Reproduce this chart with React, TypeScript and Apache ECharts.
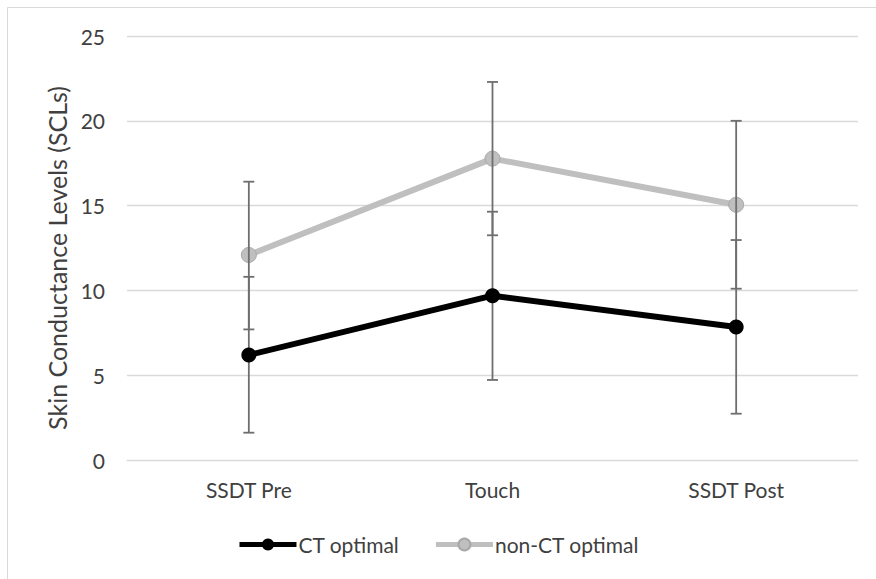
import React, { useEffect, useRef } from "react";
import * as echarts from "echarts";

const categories = ["SSDT Pre", "Touch", "SSDT Post"];
const ctMean = [6.19, 9.69, 7.84];
const ctLow = [1.61, 4.72, 2.73];
const ctHigh = [10.8, 14.64, 12.97];
const nonMean = [12.09, 17.77, 15.05];
const nonLow = [7.7, 13.25, 10.1];
const nonHigh = [16.41, 22.29, 20.0];
const yTicks = { min: 0, max: 25, interval: 5 };
const yTitle = "Skin Conductance Levels (SCLs)";

const FONT = "Lato, 'Open Sans', sans-serif";

export default function App() {
  const ref = useRef<HTMLDivElement>(null);
  useEffect(() => {
    if (!ref.current) return;
    const chart = echarts.init(ref.current, undefined, { renderer: "svg" });
    const errData: number[][] = [];
    categories.forEach((_, i) => {
      errData.push([i, ctLow[i], ctHigh[i]]);
      errData.push([i, nonLow[i], nonHigh[i]]);
    });
    chart.setOption({
      animation: false,
      backgroundColor: "#ffffff",
      textStyle: { fontFamily: FONT },
      graphic: [
        {
          type: "rect",
          shape: { x: 7.5, y: 7.5, width: 900, height: 600 },
          style: { fill: "none", stroke: "#d9d9d9", lineWidth: 1 },
          silent: true,
        },
        {
          type: "text",
          x: 57,
          y: 258,
          rotation: Math.PI / 2,
          style: {
            text: yTitle,
            fill: "#404040",
            fontSize: 25,
            fontFamily: FONT,
            align: "center",
            verticalAlign: "middle",
          },
          silent: true,
        },
      ],
      grid: { left: 127, right: 18, top: 36, bottom: 119, containLabel: false },
      xAxis: {
        type: "category",
        data: categories,
        boundaryGap: true,
        axisLine: { show: true, lineStyle: { color: "#d9d9d9", width: 1 } },
        axisTick: { show: false },
        axisLabel: { color: "#404040", fontSize: 21, margin: 19, fontFamily: FONT },
      },
      yAxis: {
        type: "value",
        min: yTicks.min,
        max: yTicks.max,
        interval: yTicks.interval,
        axisLine: { show: false },
        axisTick: { show: false },
        axisLabel: { color: "#404040", fontSize: 21, margin: 22, fontFamily: FONT },
        splitLine: { lineStyle: { color: "#d9d9d9", width: 1.3 } },
      },
      legend: {
        top: 529,
        left: "center",
        itemWidth: 57,
        itemHeight: 15,
        itemGap: 34,
        lineStyle: { width: 5 },
        textStyle: { color: "#404040", fontSize: 21, fontFamily: FONT, padding: [0, 0, 0, -3] },
        data: ["CT optimal", "non-CT optimal"],
      },
      series: [
        {
          name: "non-CT optimal",
          type: "line",
          data: nonMean,
          z: 2,
          symbol: "circle",
          symbolSize: 15,
          lineStyle: { color: "#bfbfbf", width: 6 },
          itemStyle: { color: "#bfbfbf", borderColor: "#a8a8a8", borderWidth: 1 },
        },
        {
          name: "errors",
          type: "custom",
          z: 3,
          data: errData,
          renderItem: (params: any, api: any) => {
            const x = api.value(0);
            const lo = api.coord([x, api.value(1)]);
            const hi = api.coord([x, api.value(2)]);
            const hw = 5.5;
            const style = { stroke: "#6e6e6e", lineWidth: 1.8 };
            return {
              type: "group",
              children: [
                { type: "line", shape: { x1: lo[0], y1: lo[1], x2: hi[0], y2: hi[1] }, style },
                { type: "line", shape: { x1: lo[0] - hw, y1: lo[1], x2: lo[0] + hw, y2: lo[1] }, style },
                { type: "line", shape: { x1: hi[0] - hw, y1: hi[1], x2: hi[0] + hw, y2: hi[1] }, style },
              ],
            };
          },
        },
        {
          name: "CT optimal",
          type: "line",
          data: ctMean,
          z: 4,
          symbol: "circle",
          symbolSize: 15,
          lineStyle: { color: "#000000", width: 6 },
          itemStyle: { color: "#000000" },
        },
      ],
    });
    return () => chart.dispose();
  }, []);
  return (
    <div
      ref={ref}
      style={{ position: "fixed", left: 0, top: 0, width: 876, height: 579 }}
    />
  );
}
